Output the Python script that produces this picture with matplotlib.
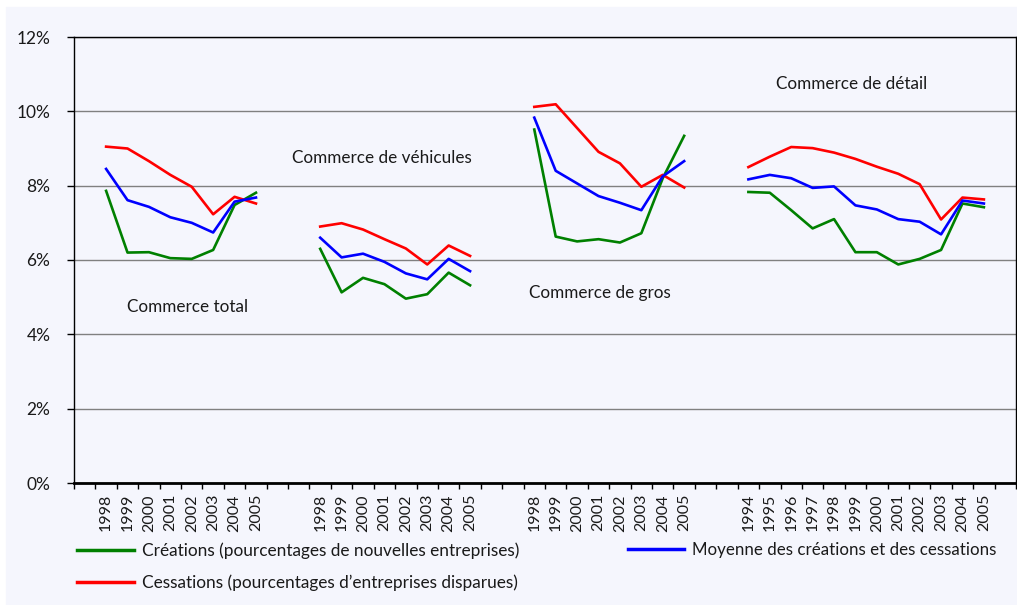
import matplotlib
matplotlib.use("Agg")
import matplotlib.pyplot as plt
from matplotlib.patches import Rectangle
from matplotlib.ticker import FixedLocator, FuncFormatter

plt.rcParams["font.family"] = ["Lato", "DejaVu Sans"]

# ---- donnees (taux en %) ----
groupes = ["Commerce total", "Commerce de véhicules", "Commerce de gros", "Commerce de détail"]
annees_total = ["1998", "1999", "2000", "2001", "2002", "2003", "2004", "2005"]
annees_vehicules = ["1998", "1999", "2000", "2001", "2002", "2003", "2004", "2005"]
annees_gros = ["1998", "1999", "2000", "2001", "2002", "2003", "2004", "2005"]
annees_detail = ["1994", "1995", "1996", "1997", "1998", "1999",
                 "2000", "2001", "2002", "2003", "2004", "2005"]

total_creations = [7.86, 6.20, 6.21, 6.05, 6.03, 6.27, 7.48, 7.81]
total_cessations = [9.05, 9.00, 8.66, 8.29, 7.97, 7.23, 7.70, 7.52]
total_moyenne = [8.45, 7.61, 7.43, 7.15, 7.00, 6.74, 7.57, 7.68]

vehicules_creations = [6.30, 5.13, 5.52, 5.35, 4.96, 5.08, 5.66, 5.32]
vehicules_cessations = [6.90, 6.99, 6.82, 6.56, 6.31, 5.88, 6.39, 6.11]
vehicules_moyenne = [6.60, 6.07, 6.17, 5.95, 5.64, 5.48, 6.03, 5.70]

gros_creations = [9.51, 6.63, 6.50, 6.56, 6.47, 6.72, 8.20, 9.34]
gros_cessations = [10.12, 10.19, 9.55, 8.91, 8.60, 7.97, 8.29, 7.95]
gros_moyenne = [9.83, 8.40, 8.06, 7.72, 7.54, 7.34, 8.25, 8.66]

detail_creations = [7.83, 7.81, 7.34, 6.85, 7.10, 6.21, 6.21, 5.88, 6.03, 6.27, 7.52, 7.42]
detail_cessations = [8.50, 8.78, 9.04, 9.01, 8.89, 8.72, 8.51, 8.32, 8.04, 7.09, 7.68, 7.63]
detail_moyenne = [8.17, 8.29, 8.20, 7.94, 7.98, 7.47, 7.36, 7.10, 7.03, 6.69, 7.60, 7.52]

series = [
    (annees_total, total_creations, total_cessations, total_moyenne),
    (annees_vehicules, vehicules_creations, vehicules_cessations, vehicules_moyenne),
    (annees_gros, gros_creations, gros_cessations, gros_moyenne),
    (annees_detail, detail_creations, detail_cessations, detail_moyenne),
]

VERT = "#008000"
BLEU = "#0000FF"
ROUGE = "#FF0000"
FOND = "#F5F6FD"
TEXTE = "#1a1a1a"

fig = plt.figure(figsize=(10.17, 6.05), dpi=100, facecolor="white")
fig.patches.append(Rectangle((6 / 1017, 0), 1, (605 - 7) / 605,
                             transform=fig.transFigure, color=FOND, zorder=-10))
ax = fig.add_axes([74 / 1017, (605 - 483) / 605, 942 / 1017, 446 / 605])
ax.set_facecolor(FOND)

# axe des categories : un vide au debut, deux vides entre groupes, un a la fin
pos = 1
positions, labels = [], []
handles = {}
for annees, cre, ces, moy in series:
    xs = list(range(pos, pos + len(annees)))
    l1, = ax.plot(xs, cre, color=VERT, lw=1.9, zorder=3)
    l2, = ax.plot(xs, ces, color=ROUGE, lw=1.9, zorder=3)
    l3, = ax.plot(xs, moy, color=BLEU, lw=1.9, zorder=3)
    handles = {"cre": l1, "ces": l2, "moy": l3}
    positions += xs
    labels += annees
    pos += len(annees) + 2
n_cat = pos - 1

ax.set_xlim(-0.5, n_cat - 0.5)
ax.set_ylim(0, 12)

ax.xaxis.set_major_locator(FixedLocator(positions))
ax.set_xticklabels(labels, rotation=90, fontsize=11.5, color=TEXTE)
ax.tick_params(axis="x", which="major", length=0, pad=8)
ax.xaxis.set_minor_locator(FixedLocator([i - 0.5 for i in range(n_cat + 1)]))
ax.tick_params(axis="x", which="minor", length=4, width=1, direction="out", color="black")

ax.set_yticks(range(0, 13, 2))
ax.yaxis.set_major_formatter(FuncFormatter(lambda v, p: f"{int(v)}%"))
ax.tick_params(axis="y", length=5, width=1, pad=12, labelsize=12.5, labelcolor=TEXTE)

ax.grid(axis="y", color="#808080", lw=1, zorder=1)
for s in ["top", "right", "left"]:
    ax.spines[s].set_color("black")
    ax.spines[s].set_linewidth(1)
ax.spines["bottom"].set_linewidth(2)
ax.spines["bottom"].set_zorder(4)

# noms des secteurs
ax.text(4.82, 4.73, groupes[0], ha="center", va="center", fontsize=12.3, color=TEXTE)
ax.text(13.89, 8.74, groupes[1], ha="center", va="center", fontsize=12.3, color=TEXTE)
ax.text(24.07, 5.11, groupes[2], ha="center", va="center", fontsize=12.3, color=TEXTE)
ax.text(35.84, 10.73, groupes[3], ha="center", va="center", fontsize=12.3, color=TEXTE)

leg1 = fig.legend([handles["cre"], handles["ces"]],
                  ["Créations (pourcentages de nouvelles entreprises)",
                   "Cessations (pourcentages d\u2019entreprises disparues)"],
                  loc="upper left", bbox_to_anchor=(77 / 1017, 1 - 542 / 605),
                  frameon=False, fontsize=12.4, handlelength=3.3, handletextpad=0.45,
                  borderpad=0, borderaxespad=0, labelspacing=0.95, labelcolor=TEXTE)
for h in leg1.get_lines():
    h.set_linewidth(2.5)
leg2 = fig.legend([handles["moy"]], ["Moyenne des créations et des cessations"],
                  loc="upper left", bbox_to_anchor=(628 / 1017, 1 - 542 / 605),
                  frameon=False, fontsize=12.2, handlelength=3.3, handletextpad=0.45,
                  borderpad=0, borderaxespad=0, labelcolor=TEXTE)
for h in leg2.get_lines():
    h.set_linewidth(2.5)

fig.savefig("out.png", dpi=100, facecolor="white")
